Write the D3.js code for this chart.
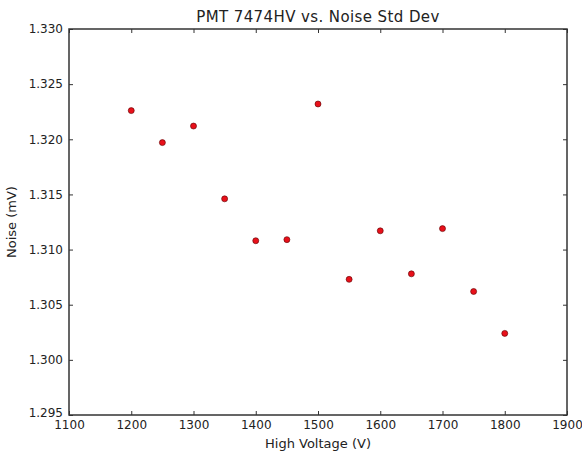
<!DOCTYPE html>
<html>
<head>
<meta charset="utf-8">
<script src="https://cdn.jsdelivr.net/npm/d3@7"></script>
<style>
  body { margin: 0; background: #fff; }
  text { font-family: "DejaVu Sans", sans-serif; fill: #222; }
</style>
</head>
<body>
<div class="chart"></div>
<script>
// High voltage settings (V) and measured noise std dev (mV)
const voltages = [1200, 1250, 1300, 1350, 1400, 1450, 1500, 1550, 1600, 1650, 1700, 1750, 1800];
const noise = [1.3226, 1.3197, 1.3212, 1.3146, 1.3108, 1.3109, 1.3232, 1.3073, 1.3117, 1.3078, 1.3119, 1.3062, 1.3024];
const xTicks = [1100, 1200, 1300, 1400, 1500, 1600, 1700, 1800, 1900];
const yTicks = [1.295, 1.300, 1.305, 1.310, 1.315, 1.320, 1.325, 1.330];

const margin = { top: 29, right: 15, bottom: 40, left: 69 };
const width = 582 - margin.left - margin.right;
const height = 455 - margin.top - margin.bottom;

const svg = d3.select(".chart")
  .append("svg")
  .attr("width", 582)
  .attr("height", 455)
  .append("g")
  .attr("transform", `translate(${margin.left},${margin.top})`);

const x = d3.scaleLinear().domain([1100, 1900]).range([0, width]);
const y = d3.scaleLinear().domain([1.295, 1.330]).range([height, 0]);

// axes with inward ticks on all four sides (matplotlib classic look)
const styleAxis = g => {
  g.select(".domain").remove();
  g.selectAll("line").attr("stroke", "#333");
  g.selectAll("text").style("font-size", "12px").attr("fill", "#222");
};

svg.append("g")
  .attr("transform", `translate(0,${height})`)
  .call(d3.axisBottom(x).tickValues(xTicks).tickSizeInner(-4).tickSizeOuter(0).tickPadding(5).tickFormat(d3.format("d")))
  .call(styleAxis);

svg.append("g")
  .call(d3.axisTop(x).tickValues(xTicks).tickSizeInner(-4).tickSizeOuter(0).tickFormat(""))
  .call(styleAxis);

svg.append("g")
  .call(d3.axisLeft(y).tickValues(yTicks).tickSizeInner(-4).tickSizeOuter(0).tickPadding(6).tickFormat(d3.format(".3f")))
  .call(styleAxis);

svg.append("g")
  .attr("transform", `translate(${width},0)`)
  .call(d3.axisRight(y).tickValues(yTicks).tickSizeInner(-4).tickSizeOuter(0).tickFormat(""))
  .call(styleAxis);

// the lowest y label sits right above the first x label; nudge it up a touch
svg.selectAll("g text").filter(d => d === 1.295).attr("dy", "0.1em");

// plot frame
svg.append("rect")
  .attr("width", width)
  .attr("height", height)
  .attr("fill", "none")
  .attr("stroke", "#333")
  .attr("stroke-width", 1.5);

// data points
svg.selectAll(".dot")
  .data(voltages)
  .enter().append("circle")
  .attr("cx", (d, i) => x(d))
  .attr("cy", (d, i) => y(noise[i]))
  .attr("r", 3)
  .attr("fill", "#e8101a")
  .attr("stroke", "#5a0000")
  .attr("stroke-width", 0.6);

// title and axis labels
svg.append("text")
  .attr("x", width / 2)
  .attr("y", -7)
  .attr("text-anchor", "middle")
  .style("font-size", "15px")
  .style("letter-spacing", "0.4px")
  .text("PMT 7474HV vs. Noise Std Dev");

svg.append("text")
  .attr("x", width / 2)
  .attr("y", height + 33)
  .attr("text-anchor", "middle")
  .style("font-size", "13px")
  .text("High Voltage (V)");

svg.append("text")
  .attr("transform", "rotate(-90)")
  .attr("x", -height / 2)
  .attr("y", -53)
  .attr("text-anchor", "middle")
  .style("font-size", "13px")
  .text("Noise (mV)");
</script>
</body>
</html>
